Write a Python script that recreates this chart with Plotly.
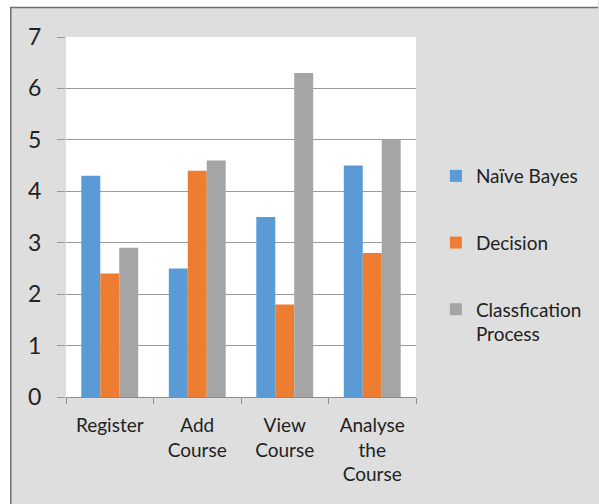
import plotly.graph_objects as go

categories = ["Register", "Add<br>Course", "View<br>Course", "Analyse<br>the<br>Course"]
naive_bayes = [4.3, 2.5, 3.5, 4.5]
decision = [2.4, 4.4, 1.8, 2.8]
classification = [2.9, 4.6, 6.3, 5.0]
series_names = ["Naïve Bayes", "Decision", "Classfication<br>Process"]
series_colors = ["#5B9BD5", "#ED7D31", "#A5A5A5"]
y_ticks = [0, 1, 2, 3, 4, 5, 6, 7]

FONT = "Lato, Carlito, 'Open Sans', sans-serif"
W, H = 599, 504
ML, MR, MT, MB = 66, 181, 37, 107
PW, PH = W - ML - MR, H - MT - MB

def px_x(p):
    return (p - ML) / PW

def px_y(p):
    return (H - MB - p) / PH

fig = go.Figure()
for name, vals, col in zip(series_names, [naive_bayes, decision, classification], series_colors):
    fig.add_trace(go.Bar(x=categories, y=vals, name=name, marker=dict(color=col, line=dict(width=0)),
                         legendgroup=name))

fig.update_layout(
    width=W, height=H,
    margin=dict(l=ML, r=MR, t=MT, b=MB),
    paper_bgcolor="#DEDEDE",
    plot_bgcolor="#FFFFFF",
    barmode="group", bargap=0.35, bargroupgap=0,
    font=dict(family=FONT, color="#222222"),
    showlegend=True,
    legend=dict(x=px_x(438), y=px_y(157), xanchor="left", yanchor="top",
                bgcolor="rgba(0,0,0,0)", font=dict(size=19, color="#222222"),
                tracegroupgap=39, valign="top", itemwidth=30),
    xaxis=dict(showgrid=False, showline=True, linecolor="#8C8C8C", linewidth=1,
               ticks="outside", tickson="boundaries", ticklen=6, tickcolor="#8C8C8C",
               tickfont=dict(size=19, color="#222222"), ticklabelstandoff=11),
    yaxis=dict(range=[0, 7], tickvals=y_ticks, showgrid=True, gridcolor="#9A9A9A", gridwidth=1,
               zeroline=False, showline=False, ticks="outside", ticklen=8, tickcolor="#9A9A9A",
               tickfont=dict(size=23, color="#222222"), ticklabelstandoff=11),
    shapes=[
        dict(type="rect", xref="paper", yref="paper", x0=px_x(-2), x1=px_x(W + 2), y0=px_y(-2), y1=px_y(7),
             fillcolor="#FFFFFF", line=dict(width=0), layer="above"),
        dict(type="rect", xref="paper", yref="paper", x0=px_x(-2), x1=px_x(10), y0=px_y(-2), y1=px_y(H + 2),
             fillcolor="#FFFFFF", line=dict(width=0), layer="above"),
        dict(type="line", xref="paper", yref="paper", x0=px_x(10), x1=px_x(W + 2), y0=px_y(7.5), y1=px_y(7.5),
             line=dict(color="#6E6E6E", width=1.5), layer="above"),
        dict(type="line", xref="paper", yref="paper", x0=px_x(10.5), x1=px_x(10.5), y0=px_y(7), y1=px_y(H + 2),
             line=dict(color="#6E6E6E", width=1.5), layer="above"),
    ],
)

fig.write_html("out.html", config={"displayModeBar": False},
               post_script="document.body.style.margin='0';document.body.style.padding='0';"
                           "document.documentElement.style.overflow='hidden';")
